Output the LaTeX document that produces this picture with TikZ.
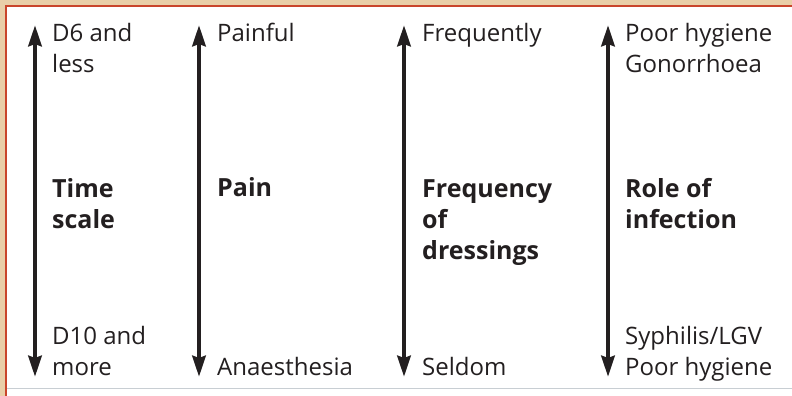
\documentclass[tikz,border=0pt]{standalone}
\usepackage{fontspec}
\setmainfont{Open Sans}
\usetikzlibrary{arrows.meta,positioning}
\definecolor{ink}{HTML}{231F20}
\definecolor{frame}{HTML}{C9452B}
\definecolor{paper}{HTML}{E9CFA8}
\definecolor{rule}{HTML}{C8CED3}
\tikzset{
  scalebar/.style={{Stealth[length=21pt,width=13pt,inset=2pt]}-{Stealth[length=21pt,width=13pt,inset=2pt]},line width=4.5pt,draw=ink},
  endnote/.style={anchor=base west,inner sep=0pt,align=left,text=ink,font=\fontsize{24}{31}\selectfont},
  axisname/.style={endnote,font=\fontsize{25}{31}\selectfont\bfseries}
}

\begin{document}
\begin{tikzpicture}[x=1pt,y=-1pt]
  \useasboundingbox (0,0) rectangle (792,396);
  % scanned page edge and frame
  \fill[paper] (0,0) rectangle (792,396);
  \fill[white] (7,7) rectangle (792,396);
  \draw[frame,line width=2pt] (6,396) -- (6,6) -- (792,6);
  \draw[rule,line width=1pt] (7,388.5) -- (792,388.5);

  % the four scales
  \coordinate (timeTop) at (35,25);   \coordinate (timeBot) at (35,377);
  \coordinate (painTop) at (199,25);  \coordinate (painBot) at (199,377);
  \coordinate (dressTop) at (404,25); \coordinate (dressBot) at (404,377);
  \coordinate (infTop) at (608,25);   \coordinate (infBot) at (608,377);
  \draw[scalebar] (timeBot) -- (timeTop);
  \draw[scalebar] (painBot) -- (painTop);
  \draw[scalebar] (dressBot) -- (dressTop);
  \draw[scalebar] (infBot) -- (infTop);

  % base anchor sits on the last line
  \node[endnote] (timeHigh) at (52,73) {D6 and\\less};
  \node[axisname] (timeName) at (52,228) {Time\\scale};
  \node[endnote] (timeLow) at (52,375) {D10 and\\more};

  \node[endnote] (painHigh) at (217,42) {Painful};
  \node[axisname] (painName) at (217,196) {Pain};
  \node[endnote] (painLow) at (217,375) {Anaesthesia};

  \node[endnote] (dressHigh) at (422,42) {Frequently};
  \node[axisname] (dressName) at (422,259) {Frequency\\of\\dressings};
  \node[endnote] (dressLow) at (422,375) {Seldom};

  \node[endnote] (infHigh) at (625,73) {Poor hygiene\\Gonorrhoea};
  \node[axisname] (infName) at (625,228) {Role of\\infection};
  \node[endnote] (infLow) at (625,375) {Syphilis/LGV\\Poor hygiene};
\end{tikzpicture}
\end{document}
